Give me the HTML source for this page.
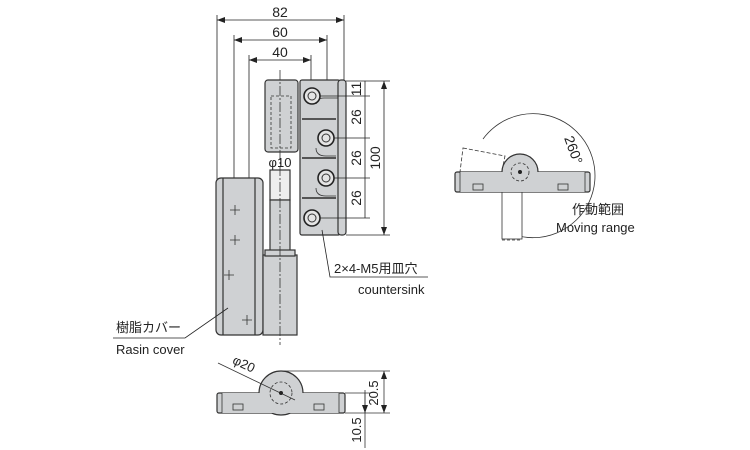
<!DOCTYPE html>
<html><head><meta charset="utf-8"><style>
html,body{margin:0;padding:0;background:#fff;}
svg{display:block;font-family:"Liberation Sans","Noto Sans CJK JP",sans-serif;}
</style></head><body>
<svg width="750" height="450" viewBox="0 0 750 450" xmlns="http://www.w3.org/2000/svg">
<defs>
<marker id="a" markerWidth="8" markerHeight="6" refX="8" refY="3" orient="auto-start-reverse" markerUnits="userSpaceOnUse"><path d="M0,0 L8,3 L0,6z" fill="#222"/></marker>
</defs>
<g stroke="#222" stroke-width="0.8" fill="none">
<line x1="217" y1="20" x2="344" y2="20" marker-start="url(#a)" marker-end="url(#a)"/>
<line x1="234" y1="40" x2="327" y2="40" marker-start="url(#a)" marker-end="url(#a)"/>
<line x1="249" y1="60" x2="311" y2="60" marker-start="url(#a)" marker-end="url(#a)"/>
<line x1="217" y1="15" x2="217" y2="180"/>
<line x1="234" y1="35" x2="234" y2="180"/>
<line x1="249" y1="55" x2="249" y2="180"/>
<line x1="311" y1="55" x2="311" y2="96"/>
<line x1="327" y1="35" x2="327" y2="138"/>
<line x1="344" y1="15" x2="344" y2="82"/>
</g>
<g font-size="14" fill="#222" text-anchor="middle">
<text x="280" y="17">82</text><text x="280" y="37">60</text><text x="280" y="57">40</text>
</g>
<g stroke="#333" stroke-width="1.2" fill="#cfd1d3">
<rect x="265" y="80" width="33" height="72" rx="3"/>
<rect x="300" y="80" width="40" height="155" rx="2"/>
<rect x="338" y="80" width="8" height="155" rx="3"/>
<rect x="270" y="170" width="20" height="30" fill="#eee"/>
<rect x="270" y="200" width="20" height="55" fill="#cfd1d3"/>
<rect x="216" y="178" width="47" height="157" rx="5"/>
<line x1="223" y1="178" x2="223" y2="335"/>
<line x1="255" y1="178" x2="255" y2="335"/>
<rect x="263" y="255" width="34" height="80"/>
<rect x="265" y="250" width="30" height="6"/>
</g>
<g stroke="#333" stroke-width="0.8" fill="none" stroke-dasharray="3,2">
<rect x="271" y="96" width="20" height="52"/>
</g>
<g stroke="#333" stroke-width="0.8" fill="none">
<path d="M302 119 H336 M302 158 H336 M302 198 H336" stroke-width="2" stroke="#555"/>
<path d="M316 104 q0 -6 8 -6 h14 M316 148 q0 8 10 8 h10 M316 188 q0 8 10 8 h10"/>
</g>
<g fill="#e4e4e4" stroke="#222" stroke-width="1.6">
<circle cx="312" cy="96" r="8"/><circle cx="326" cy="138" r="8"/><circle cx="326" cy="178" r="8"/><circle cx="312" cy="218" r="8"/>
</g>
<g fill="none" stroke="#333" stroke-width="1">
<circle cx="312" cy="96" r="4"/><circle cx="326" cy="138" r="4"/><circle cx="326" cy="178" r="4"/><circle cx="312" cy="218" r="4"/>
</g>
<g stroke="#333" stroke-width="0.8" stroke-dasharray="10,2,2,2">
<line x1="280" y1="70" x2="280" y2="345"/>
</g>
<g stroke="#333" stroke-width="0.8">
<path d="M230 210h10M235 205v10M230 240h10M235 235v10M224 275h10M229 270v10M242 320h10M247 315v10"/>
</g>
<g stroke="#222" stroke-width="0.8" fill="none">
<line x1="346" y1="81" x2="390" y2="81"/>
<line x1="346" y1="235" x2="390" y2="235"/>
<line x1="320" y1="96" x2="370" y2="96"/>
<line x1="334" y1="138" x2="370" y2="138"/>
<line x1="334" y1="178" x2="370" y2="178"/>
<line x1="320" y1="218" x2="370" y2="218"/>
<line x1="365" y1="81" x2="365" y2="218"/>
<line x1="384" y1="81" x2="384" y2="235" marker-start="url(#a)" marker-end="url(#a)"/>
</g>
<g font-size="14" fill="#222" text-anchor="middle">
<text transform="translate(361 89) rotate(-90)">11</text>
<text transform="translate(361 117) rotate(-90)">26</text>
<text transform="translate(361 158) rotate(-90)">26</text>
<text transform="translate(361 198) rotate(-90)">26</text>
<text transform="translate(380 158) rotate(-90)">100</text>
<text x="280" y="167" font-size="13">φ10</text>
</g>
<g stroke="#222" stroke-width="0.8" fill="none">
<polyline points="322,230 330,277 428,277"/>
<polyline points="228,308 185,338 113,338"/>
</g>
<g font-size="13" fill="#222">
<text x="334" y="273">2×4-M5用皿穴</text>
<text x="358" y="294">countersink</text>
<text x="116" y="332">樹脂カバー</text>
<text x="116" y="354">Rasin cover</text>
</g>
<g stroke="#333" stroke-width="1.2" fill="#cfd1d3">
<rect x="217" y="393" width="128" height="20" rx="2"/>
<circle cx="281" cy="393" r="22"/>
<rect x="222" y="393" width="117" height="20" stroke="none"/>
</g>
<g stroke="#333" stroke-width="0.8" fill="none">
<line x1="222" y1="393" x2="222" y2="413"/><line x1="339" y1="393" x2="339" y2="413"/>
<rect x="233" y="404" width="10" height="6"/><rect x="314" y="404" width="10" height="6"/>
<circle cx="281" cy="393" r="11" stroke-dasharray="3,2"/>
<line x1="218" y1="363" x2="295" y2="400"/>
<line x1="281" y1="371" x2="390" y2="371"/>
<line x1="345" y1="413" x2="390" y2="413"/>
<line x1="384" y1="371" x2="384" y2="413" marker-start="url(#a)" marker-end="url(#a)"/>
<line x1="365" y1="393" x2="365" y2="448"/>
<line x1="365" y1="390" x2="365" y2="413" marker-end="url(#a)"/>
<line x1="345" y1="393" x2="370" y2="393"/>
</g>
<circle cx="281" cy="393" r="2" fill="#222"/>
<g font-size="13" fill="#222" text-anchor="middle">
<text transform="translate(242 368) rotate(25)">φ20</text>
<text transform="translate(378 393) rotate(-90)">20.5</text>
<text transform="translate(361 430) rotate(-90)">10.5</text>
</g>
<g stroke="#333" stroke-width="0.8" fill="none">
<path d="M483 139 A62 62 0 1 1 512 234"/>
</g>
<g stroke="#333" stroke-width="0.8" fill="#fff">
<polygon points="463,148 505,156 500,181 460,172" stroke-dasharray="4,2"/>
<rect x="502" y="192" width="20" height="47"/>
<line x1="502" y1="240" x2="522" y2="240" stroke-dasharray="3,2"/>
</g>
<g stroke="#333" stroke-width="1.2" fill="#cfd1d3">
<rect x="455" y="172" width="135" height="20" rx="2"/>
<circle cx="520" cy="172" r="18"/>
<rect x="460" y="172" width="125" height="20" stroke="none"/>
</g>
<g stroke="#333" stroke-width="0.8" fill="none">
<line x1="460" y1="172" x2="460" y2="192"/><line x1="585" y1="172" x2="585" y2="192"/>
<circle cx="520" cy="172" r="9" stroke-dasharray="3,2"/>
<rect x="473" y="184" width="10" height="6"/><rect x="558" y="184" width="10" height="6"/>
</g>
<circle cx="520" cy="172" r="2" fill="#222"/>
<g font-size="13" fill="#222">
<text transform="translate(564 138) rotate(70)" font-size="14">260°</text>
<text x="572" y="214">作動範囲</text>
<text x="556" y="232">Moving range</text>
</g>
</svg>
</body></html>
